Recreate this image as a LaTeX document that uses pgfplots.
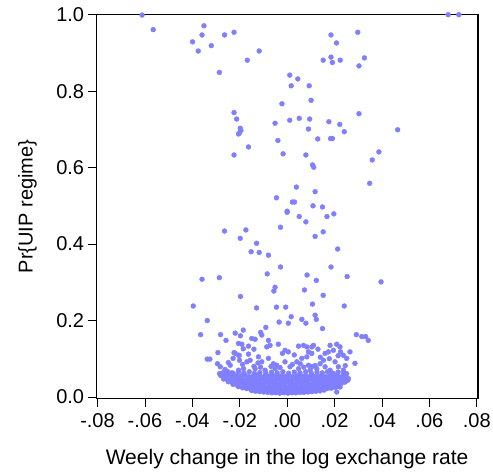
\documentclass[border=0pt]{standalone}
\usepackage{fontspec}
\setmainfont{Liberation Sans}
\usepackage{pgfplots}
\pgfplotsset{compat=1.18}
\definecolor{dotc}{RGB}{128,128,255}
\begin{document}
\fontsize{20bp}{24bp}\selectfont
\begin{tikzpicture}
\begin{axis}[
  width=381.7bp, height=383.6bp, scale only axis,
  xmin=-0.0805, xmax=0.0805, ymin=-0.0035, ymax=1.0,
  scaled x ticks=false, scaled y ticks=false,
  axis line style={line width=1.2bp, black},
  tick align=outside, tick pos=left, major tick length=8.5bp,
  tick style={line width=0.8bp, black},
  xtick={-0.08,-0.06,-0.04,-0.02,0,0.02,0.04,0.06,0.08},
  xticklabels={-.08,-.06,-.04,-.02,.00,.02,.04,.06,.08},
  ytick={0,0.2,0.4,0.6,0.8,1.0},
  yticklabels={0.0,0.2,0.4,0.6,0.8,1.0},
  xticklabel style={inner sep=0pt, yshift=-7bp},
  yticklabel style={inner sep=0pt, xshift=-3.5bp},
  xlabel={Weely change in the log exchange rate},
  ylabel={Pr\{UIP regime\}},
  xlabel style={at={(axis description cs:0.5,-0.1721)}, anchor=base, inner sep=0pt, font=\fontsize{21bp}{25bp}\selectfont},
  ylabel style={at={(axis description cs:-0.1666,0.5)}, anchor=base, inner sep=0pt},
  clip=false,
]
\addplot[only marks, mark=*, mark size=2.45bp, color=dotc, mark options={draw=none, fill=dotc}] coordinates {
% upper points
(-0.0612,0.999)(-0.0565,0.961)(-0.0351,0.971)(-0.0359,0.947)(-0.0399,0.929)(-0.0375,0.905)
(-0.0320,0.919)(-0.0264,0.947)(-0.0224,0.954)(-0.0286,0.849)(-0.0168,0.881)(-0.0118,0.905)
(0.0011,0.842)(0.0045,0.832)(0.0017,0.814)(0.0093,0.814)(0.0101,0.776)(-0.0022,0.767)
(-0.0224,0.744)(-0.0213,0.727)(-0.0198,0.703)(-0.0202,0.690)(-0.0205,0.688)(-0.0195,0.697)
(-0.0051,0.716)(0.0011,0.724)(0.0051,0.729)(0.0095,0.727)(0.0090,0.701)(-0.0039,0.671)
(-0.0017,0.636)(0.0079,0.633)(-0.0224,0.633)(-0.0163,0.654)(0.0129,0.675)(0.0176,0.720)
(0.0191,0.676)(0.0183,0.676)(0.0222,0.713)(0.0241,0.694)(0.0303,0.741)(0.0466,0.699)
(0.0387,0.641)(0.0359,0.620)(0.0185,0.947)(0.0208,0.926)(0.0298,0.954)(0.0152,0.881)
(0.0185,0.889)(0.0191,0.875)(0.0224,0.881)(0.0303,0.866)(0.0326,0.887)(0.0679,1.0)(0.0724,1.0)
(0.0107,0.607)(0.0112,0.601)(0.0348,0.559)(0.0039,0.549)(0.0118,0.537)(-0.0045,0.521)
(0.0022,0.510)(0.0031,0.510)(0.0109,0.500)(0.0149,0.497)(0.0000,0.486)(0.0000,0.483)
(0.0197,0.479)(0.0168,0.472)(0.0051,0.472)(0.0079,0.458)(-0.0028,0.444)(-0.0264,0.434)
(-0.0174,0.437)(-0.0198,0.415)(-0.0129,0.402)(-0.0152,0.380)(-0.0118,0.378)(-0.0079,0.371)
(0.0152,0.432)(0.0118,0.420)(0.0213,0.387)(-0.0028,0.340)(0.0185,0.340)(-0.0084,0.322)
(0.0084,0.319)(0.0253,0.315)(-0.0359,0.308)(-0.0286,0.312)(0.0123,0.305)(0.0396,0.301)
(-0.0051,0.287)(-0.0056,0.277)(0.0073,0.280)(-0.0197,0.263)(0.0152,0.266)(-0.0396,0.238)
(-0.0129,0.233)(-0.0045,0.235)(-0.0006,0.235)(0.0107,0.243)(0.0241,0.238)
(0.0118,0.214)(0.0123,0.203)(0.0017,0.210)(-0.0337,0.200)(-0.0034,0.196)(0.0005,0.193)
(0.0062,0.203)(0.0079,0.193)(-0.0365,0.163)(-0.0281,0.163)(-0.0219,0.167)(-0.0197,0.160)
(-0.0185,0.175)(-0.0090,0.182)(-0.0112,0.169)(-0.0107,0.162)(-0.0135,0.151)(-0.0258,0.148)
(-0.0079,0.148)(0.0149,0.179)(0.0292,0.163)(0.0315,0.158)(0.0331,0.158)(0.0342,0.148)
(0.0286,0.088)(-0.0337,0.099)(-0.0326,0.099)
% sparse middle
(-0.0205,0.140)(-0.0191,0.138)(-0.0163,0.133)(-0.0292,0.116)(-0.0219,0.114)(-0.0205,0.109)
(-0.0163,0.112)(-0.0240,0.083)(-0.0201,0.096)(-0.0170,0.092)(-0.0294,0.087)(-0.0282,0.079)
(-0.0285,0.061)(-0.0275,0.057)(-0.0254,0.061)(-0.0233,0.063)(-0.0205,0.070)(-0.0184,0.074)
(-0.0149,0.153)(-0.0072,0.135)(-0.0086,0.131)(-0.0037,0.138)(-0.0009,0.122)(0.0005,0.118)
(-0.0020,0.114)(0.0048,0.133)(0.0069,0.135)(0.0083,0.131)(0.0090,0.118)(0.0104,0.114)
(0.0083,0.105)(0.0062,0.101)(-0.0156,0.096)(-0.0121,0.105)(-0.0107,0.092)(-0.0123,0.089)
(-0.0079,0.101)(-0.0058,0.087)(-0.0044,0.083)(-0.0009,0.092)(0.0012,0.079)(0.0041,0.092)
(0.0055,0.087)(0.0048,0.074)(0.0090,0.083)(0.0104,0.079)(0.0097,0.070)(-0.0135,0.074)
(-0.0093,0.070)(-0.0051,0.074)(0.0111,0.135)(0.0104,0.131)(0.0181,0.135)(0.0209,0.138)
(0.0223,0.131)(0.0195,0.122)(0.0174,0.118)(0.0160,0.114)(0.0237,0.109)(0.0265,0.118)
(0.0251,0.101)(0.0153,0.096)(0.0139,0.087)(0.0160,0.079)(0.0125,0.074)(0.0202,0.092)
(0.0216,0.079)(0.0237,0.070)(0.0251,0.061)(0.0181,0.070)(0.0195,0.061)(0.0258,0.048)
(0.0244,0.039)(0.0230,0.044)(0.0223,0.026)(0.0209,0.013)(-0.0224,0.116)(-0.0202,0.109)
(-0.0262,0.072)(-0.0248,0.090)(-0.0228,0.101)(-0.0188,0.085)(-0.0140,0.080)(-0.0112,0.078)
(-0.0068,0.080)(-0.0030,0.077)(0.0022,0.085)(0.0070,0.078)(0.0118,0.082)(0.0140,0.104)
(0.0178,0.100)(0.0215,0.108)(0.0245,0.082)(0.0030,0.110)(-0.0140,0.125)(-0.0185,0.126)
(0.0130,0.125)(0.0225,0.118)
% dense cluster, row A
(-0.0150,0.017)(-0.0133,0.015)(-0.0116,0.014)(-0.0099,0.013)(-0.0082,0.012)(-0.0065,0.011)
(-0.0048,0.011)(-0.0031,0.010)(-0.0014,0.011)(0.0003,0.010)(0.0020,0.011)(0.0037,0.011)
(0.0054,0.012)(0.0071,0.012)(0.0088,0.013)(0.0105,0.014)(0.0122,0.015)(0.0139,0.016)(0.0156,0.018)
% row B
(-0.0205,0.027)(-0.0188,0.024)(-0.0171,0.022)(-0.0154,0.021)(-0.0137,0.020)(-0.0120,0.019)
(-0.0103,0.020)(-0.0086,0.018)(-0.0069,0.019)(-0.0052,0.018)(-0.0035,0.019)(-0.0018,0.017)
(-0.0001,0.018)(0.0016,0.019)(0.0033,0.018)(0.0050,0.019)(0.0067,0.018)(0.0084,0.020)
(0.0101,0.019)(0.0118,0.020)(0.0135,0.021)(0.0152,0.020)(0.0169,0.022)(0.0186,0.023)
(0.0203,0.025)(0.0215,0.028)
% row C
(-0.0228,0.033)(-0.0211,0.031)(-0.0194,0.029)(-0.0177,0.030)(-0.0160,0.028)(-0.0143,0.029)
(-0.0126,0.027)(-0.0109,0.028)(-0.0092,0.026)(-0.0075,0.028)(-0.0058,0.027)(-0.0041,0.026)
(-0.0024,0.028)(-0.0007,0.026)(0.0010,0.027)(0.0027,0.028)(0.0044,0.026)(0.0061,0.028)
(0.0078,0.027)(0.0095,0.029)(0.0112,0.027)(0.0129,0.029)(0.0146,0.028)(0.0163,0.030)
(0.0180,0.029)(0.0197,0.031)(0.0214,0.032)(0.0228,0.035)
% row D
(-0.0248,0.040)(-0.0232,0.038)(-0.0215,0.037)(-0.0198,0.039)(-0.0181,0.036)(-0.0164,0.038)
(-0.0147,0.036)(-0.0130,0.037)(-0.0113,0.035)(-0.0096,0.037)(-0.0079,0.036)(-0.0062,0.038)
(-0.0045,0.035)(-0.0028,0.037)(-0.0011,0.036)(0.0006,0.038)(0.0023,0.035)(0.0040,0.037)
(0.0057,0.036)(0.0074,0.038)(0.0091,0.035)(0.0108,0.037)(0.0125,0.036)(0.0142,0.038)
(0.0159,0.036)(0.0176,0.038)(0.0193,0.037)(0.0210,0.039)(0.0227,0.038)(0.0244,0.040)
% row E
(-0.0268,0.047)(-0.0252,0.045)(-0.0235,0.047)(-0.0218,0.044)(-0.0201,0.046)(-0.0184,0.045)
(-0.0167,0.047)(-0.0150,0.044)(-0.0133,0.046)(-0.0116,0.045)(-0.0099,0.047)(-0.0082,0.044)
(-0.0065,0.046)(-0.0048,0.045)(-0.0031,0.047)(-0.0014,0.044)(0.0003,0.046)(0.0020,0.045)
(0.0037,0.047)(0.0054,0.044)(0.0071,0.046)(0.0088,0.045)(0.0105,0.047)(0.0122,0.044)
(0.0139,0.046)(0.0156,0.045)(0.0173,0.047)(0.0190,0.044)(0.0207,0.046)(0.0224,0.045)
(0.0241,0.047)(0.0256,0.044)
% row F
(-0.0280,0.056)(-0.0263,0.054)(-0.0246,0.057)(-0.0229,0.053)(-0.0212,0.055)(-0.0195,0.054)
(-0.0178,0.057)(-0.0161,0.053)(-0.0144,0.055)(-0.0127,0.056)(-0.0110,0.053)(-0.0093,0.055)
(-0.0076,0.054)(-0.0059,0.056)(-0.0042,0.053)(-0.0025,0.055)(-0.0008,0.054)(0.0009,0.056)
(0.0026,0.053)(0.0043,0.055)(0.0060,0.054)(0.0077,0.056)(0.0094,0.053)(0.0111,0.055)
(0.0128,0.054)(0.0145,0.056)(0.0162,0.053)(0.0179,0.055)(0.0196,0.054)(0.0213,0.056)
(0.0230,0.053)(0.0247,0.055)
% row G
(-0.0272,0.063)(-0.0250,0.066)(-0.0228,0.062)(-0.0205,0.065)(-0.0183,0.063)(-0.0160,0.066)
(-0.0138,0.062)(-0.0115,0.064)(-0.0090,0.062)(-0.0066,0.065)(-0.0042,0.063)(-0.0018,0.066)
(0.0006,0.062)(0.0030,0.065)(0.0054,0.063)(0.0078,0.066)(0.0102,0.062)(0.0126,0.065)
(0.0148,0.063)(0.0170,0.066)(0.0192,0.062)(0.0215,0.065)(0.0238,0.063)
};
\end{axis}
\pgfresetboundingbox
\path[use as bounding box] ([xshift=-96.3bp,yshift=-74.7bp]current axis.south west) rectangle ([xshift=15bp,yshift=14.7bp]current axis.north east);
\end{tikzpicture}
\end{document}
